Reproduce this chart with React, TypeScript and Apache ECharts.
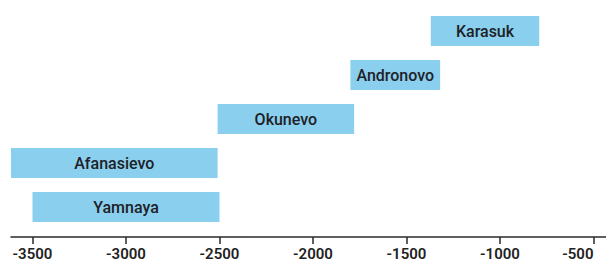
import React, { useEffect, useRef } from "react";
import * as echarts from "echarts";

const cultures = ["Yamnaya", "Afanasievo", "Okunevo", "Andronovo", "Karasuk"];
const startYears = [-3500, -3615, -2510, -1800, -1370];
const endYears = [-2500, -2510, -1780, -1320, -790];
const tickValues = [-3500, -3000, -2500, -2000, -1500, -1000, -500];

const BAR_COLOR = "#8ACFEE";
const TEXT_COLOR = "#1e2126";

export default function App() {
  const ref = useRef<HTMLDivElement>(null);
  useEffect(() => {
    document.body.style.margin = "0";
    const chart = echarts.init(ref.current!, null, { renderer: "svg" });
    const data = cultures.map((name, i) => [i, startYears[i], endYears[i], name]);
    chart.setOption({
      animation: false,
      backgroundColor: "#ffffff",
      grid: {
        left: 11,
        right: 0,
        top: 9,
        bottom: 33,
        containLabel: false,
        outerBoundsMode: "none",
      },
      xAxis: {
        type: "value",
        min: -3615,
        max: -433,
        offset: 8,
        splitLine: { show: false },
        axisLine: { show: true, lineStyle: { color: "#2a2a2a", width: 1.5 } },
        axisTick: {
          show: true,
          length: 7,
          customValues: tickValues,
          lineStyle: { color: "#2a2a2a", width: 1.5 },
        },
        axisLabel: {
          customValues: tickValues,
          formatter: (v: number) => String(v),
          color: "#222",
          fontFamily: "Roboto",
          fontWeight: 600,
          fontSize: 15,
          margin: 9,
          showMinLabel: true,
          showMaxLabel: true,
          alignMaxLabel: "right",
        },
      },
      yAxis: {
        type: "category",
        data: cultures,
        show: false,
      },
      series: [
        {
          type: "custom",
          encode: { x: [1, 2], y: 0 },
          data,
          renderItem: (params: any, api: any) => {
            const idx = api.value(0);
            const s = api.value(1);
            const e = api.value(2);
            const p1 = api.coord([s, idx]);
            const p2 = api.coord([e, idx]);
            const h = 30;
            return {
              type: "rect",
              shape: { x: p1[0], y: p1[1] - h / 2, width: p2[0] - p1[0], height: h },
              style: { fill: BAR_COLOR },
              textContent: {
                type: "text",
                style: {
                  text: cultures[idx],
                  fill: TEXT_COLOR,
                  fontFamily: "Roboto",
                  fontWeight: 500,
                  fontSize: 16,
                },
              },
              textConfig: { position: "inside" },
            };
          },
        },
      ],
    });
    return () => chart.dispose();
  }, []);
  return (
    <div
      ref={ref}
      style={{ position: "absolute", left: 0, top: 0, width: 606, height: 262, overflow: "hidden" }}
    />
  );
}
